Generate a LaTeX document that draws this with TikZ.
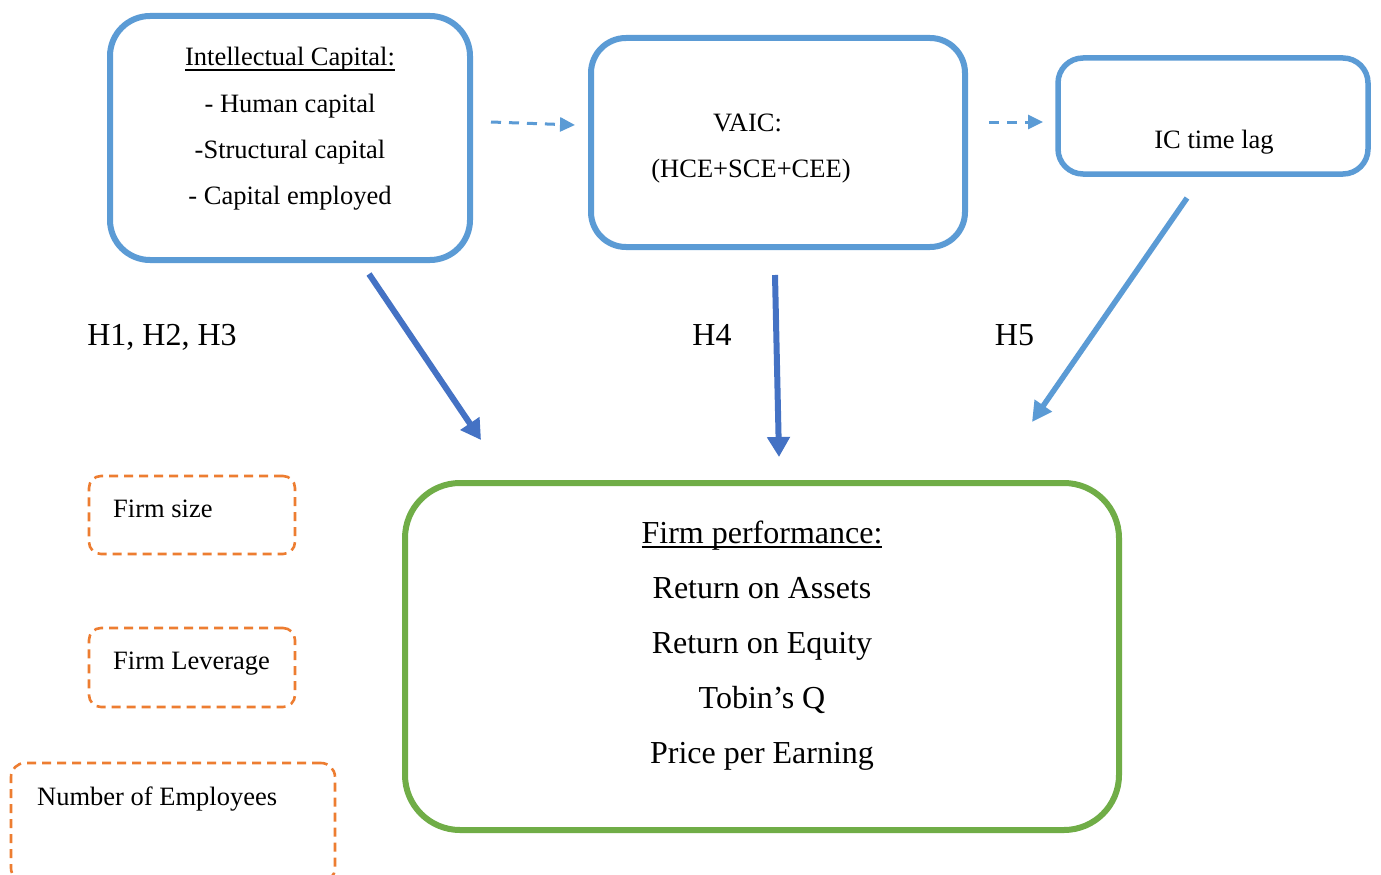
\documentclass[tikz,border=0pt]{standalone}
\usepackage{fontspec}
\setmainfont{Liberation Serif}
\usetikzlibrary{arrows.meta}
\definecolor{boxblue}{HTML}{5B9BD5}
\definecolor{arrblue}{HTML}{4472C4}
\definecolor{boxgreen}{HTML}{70AD47}
\definecolor{boxorange}{HTML}{ED7D31}
\newcommand\ulbox[1]{\leavevmode\setbox0=\hbox{#1}\rlap{\vrule height -3pt depth 5pt width \wd0}\box0}
\begin{document}
\begin{tikzpicture}[x=1pt,y=-1pt,
  bluebox/.style={draw=boxblue, line width=6pt, inner sep=0pt, fill=none},
  greenbox/.style={draw=boxgreen, line width=6pt, inner sep=0pt, rounded corners=55pt},
  ctrlbox/.style={draw=boxorange, line width=2.6pt, dash pattern=on 9pt off 6pt, inner sep=0pt},
  txt/.style={font=\fontsize{26.5}{30}\selectfont, inner sep=0pt, anchor=base},
  bigtxt/.style={font=\fontsize{32}{36}\selectfont, inner sep=0pt, anchor=base},
  solidarr/.style={draw=arrblue, line width=6pt, -{Triangle[length=20pt,width=22pt]}},
  lightarr/.style={draw=boxblue, line width=5.5pt, -{Triangle[length=20pt,width=20pt]}},
  dasharr/.style={draw=boxblue, line width=3pt, dash pattern=on 10pt off 8pt, -{Triangle[length=15pt,width=14pt]}}
]
\useasboundingbox (0,0) rectangle (1381,875);
\fill[white] (0,0) rectangle (1381,875);

% main boxes
\node[bluebox, rounded corners=40pt, minimum width=360pt, minimum height=244pt] (ic) at (290,138) {};
\node[bluebox, rounded corners=35pt, minimum width=374pt, minimum height=209pt] (vaic) at (778,142.5) {};
\node[bluebox, line width=5.5pt, rounded corners=25pt, minimum width=310pt, minimum height=116pt] (lag) at (1213,116) {};
\node[greenbox, minimum width=714pt, minimum height=347pt] (fp) at (762,656.5) {};

% control boxes
\node[ctrlbox, rounded corners=12pt, minimum width=206pt, minimum height=78pt] (size) at (192,515) {};
\node[ctrlbox, rounded corners=12pt, minimum width=206pt, minimum height=79pt] (lev) at (192,667.5) {};
\node[ctrlbox, rounded corners=14pt, minimum width=324pt, minimum height=119pt] (emp) at (173,822.5) {};

% texts in IC box
\node[txt] (ict1) at (290,66) {\ulbox{Intellectual Capital:}};
\node[txt] (ict2) at (290,112) {- Human capital};
\node[txt] (ict3) at (290,158) {-Structural capital};
\node[txt] (ict4) at (290,204) {- Capital employed};

% texts in VAIC box
\node[txt] (vt1) at (747.5,131) {VAIC:};
\node[txt] (vt2) at (751,177) {(HCE+SCE+CEE)};

% text in lag box
\node[txt] (lt) at (1214,148) {IC time lag};

% texts in firm performance box
\node[bigtxt] (ft1) at (762,543) {\ulbox{Firm performance:}};
\node[bigtxt] (ft2) at (762,598) {Return on Assets};
\node[bigtxt] (ft3) at (762,653) {Return on Equity};
\node[bigtxt] (ft4) at (762,708) {Tobin’s Q};
\node[bigtxt] (ft5) at (762,763) {Price per Earning};

% control texts
\node[txt, anchor=base west] (st) at (113,517) {Firm size};
\node[txt, anchor=base west] (lvt) at (113,669) {Firm Leverage};
\node[txt, anchor=base west] (et) at (37,805) {Number of Employees};

% hypothesis labels
\node[bigtxt] (h123) at (162,345) {H1, H2, H3};
\node[bigtxt] (h4) at (712,345) {H4};
\node[bigtxt] (h5) at (1014.5,345) {H5};

% connector end points
\coordinate (a1s) at (369,274);
\coordinate (a1e) at (481,440);
\coordinate (a2s) at (775,275);
\coordinate (a2e) at (779,457);
\coordinate (a3s) at (1187,198);
\coordinate (a3e) at (1032,422);
\coordinate (d1s) at (491,122);
\coordinate (d1e) at (575,125);
\coordinate (d2s) at (989,122);
\coordinate (d2e) at (1043,122);

\draw[solidarr] (a1s) -- (a1e);
\draw[solidarr] (a2s) -- (a2e);
\draw[lightarr] (a3s) -- (a3e);
\draw[dasharr] (d1s) -- (d1e);
\draw[dasharr] (d2s) -- (d2e);
\end{tikzpicture}
\end{document}
